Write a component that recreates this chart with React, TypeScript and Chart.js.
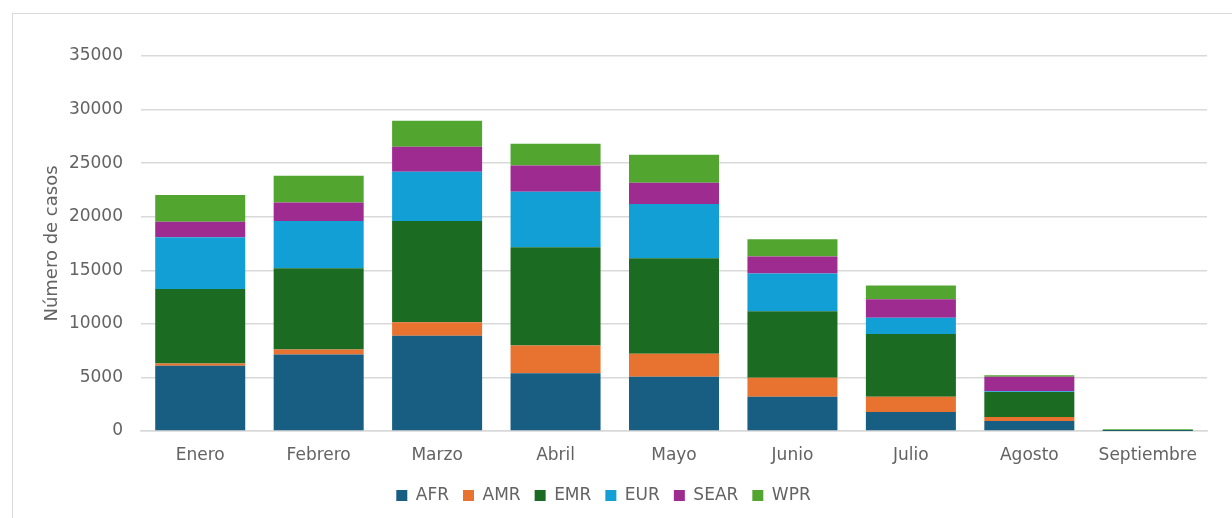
import React, { useEffect, useRef } from "react";
import { Chart, registerables } from "chart.js";

Chart.register(...registerables);

const months = ["Enero", "Febrero", "Marzo", "Abril", "Mayo", "Junio", "Julio", "Agosto", "Septiembre"];
const afr = [6080, 7140, 8900, 5400, 5060, 3200, 1770, 930, 10];
const amr = [220, 460, 1250, 2570, 2140, 1760, 1430, 370, 0];
const emr = [6950, 7600, 9460, 9190, 8930, 6210, 5860, 2330, 80];
const eur = [4840, 4410, 4590, 5180, 5060, 3540, 1520, 90, 0];
const sear = [1430, 1710, 2330, 2450, 1990, 1580, 1710, 1340, 10];
const wpr = [2510, 2510, 2420, 2020, 2600, 1610, 1300, 150, 60];

const seriesNames = ["AFR", "AMR", "EMR", "EUR", "SEAR", "WPR"];
const seriesColors = ["#175E82", "#E8722F", "#1B6B23", "#119FD6", "#9E2B8F", "#52A630"];
const yTicks = { min: 0, max: 35000, step: 5000 };
const yTitle = "Número de casos";

const FONT = "'DejaVu Sans', sans-serif";
const TEXT = "#636363";
const GRID = "#d9d9d9";

export default function App() {
  const ref = useRef<HTMLCanvasElement | null>(null);

  useEffect(() => {
    if (!ref.current) return;
    const data = [afr, amr, emr, eur, sear, wpr];
    const chart = new Chart(ref.current, {
      type: "bar",
      data: {
        labels: months,
        datasets: seriesNames.map((name, i) => ({
          label: name,
          data: data[i],
          backgroundColor: seriesColors[i],
          borderWidth: 0,
          barPercentage: 0.76,
          categoryPercentage: 1,
        })),
      },
      options: {
        responsive: false,
        animation: false,
        layout: { padding: { top: 56, left: 0, right: 25, bottom: 4 } },
        plugins: {
          tooltip: { enabled: false },
          legend: {
            position: "bottom",
            labels: {
              boxWidth: 11,
              boxHeight: 11,
              padding: 14,
              color: TEXT,
              font: { family: FONT, size: 17 },
            },
          },
        },
        scales: {
          x: {
            stacked: true,
            grid: { display: false },
            border: { display: true, color: GRID, width: 1.5 },
            ticks: { color: TEXT, font: { family: FONT, size: 17 }, padding: 6 },
            afterFit: (scale: any) => {
              scale.height = 42;
            },
          },
          y: {
            stacked: true,
            min: yTicks.min,
            max: yTicks.max,
            ticks: {
              stepSize: yTicks.step,
              color: TEXT,
              font: { family: FONT, size: 17 },
              padding: 18,
              callback: (v: any) => String(v),
            },
            grid: { color: GRID, lineWidth: 1.5, drawTicks: false },
            border: { display: false },
            title: {
              display: true,
              text: yTitle,
              color: TEXT,
              font: { family: FONT, size: 18 },
              padding: { top: 42, bottom: 0 },
            },
            afterFit: (scale: any) => {
              scale.width = 141;
            },
          },
        },
      },
    });
    return () => chart.destroy();
  }, []);

  return (
    <div style={{ position: "fixed", left: 0, top: 0, width: 1232, height: 518, background: "#fff", overflow: "hidden" }}>
      <div
        style={{
          position: "absolute",
          left: 12,
          top: 13,
          width: 1240,
          height: 520,
          border: `1.5px solid ${GRID}`,
          boxSizing: "border-box",
        }}
      />
      <canvas ref={ref} width={1232} height={518} style={{ position: "absolute", left: 0, top: 0 }} />
    </div>
  );
}
